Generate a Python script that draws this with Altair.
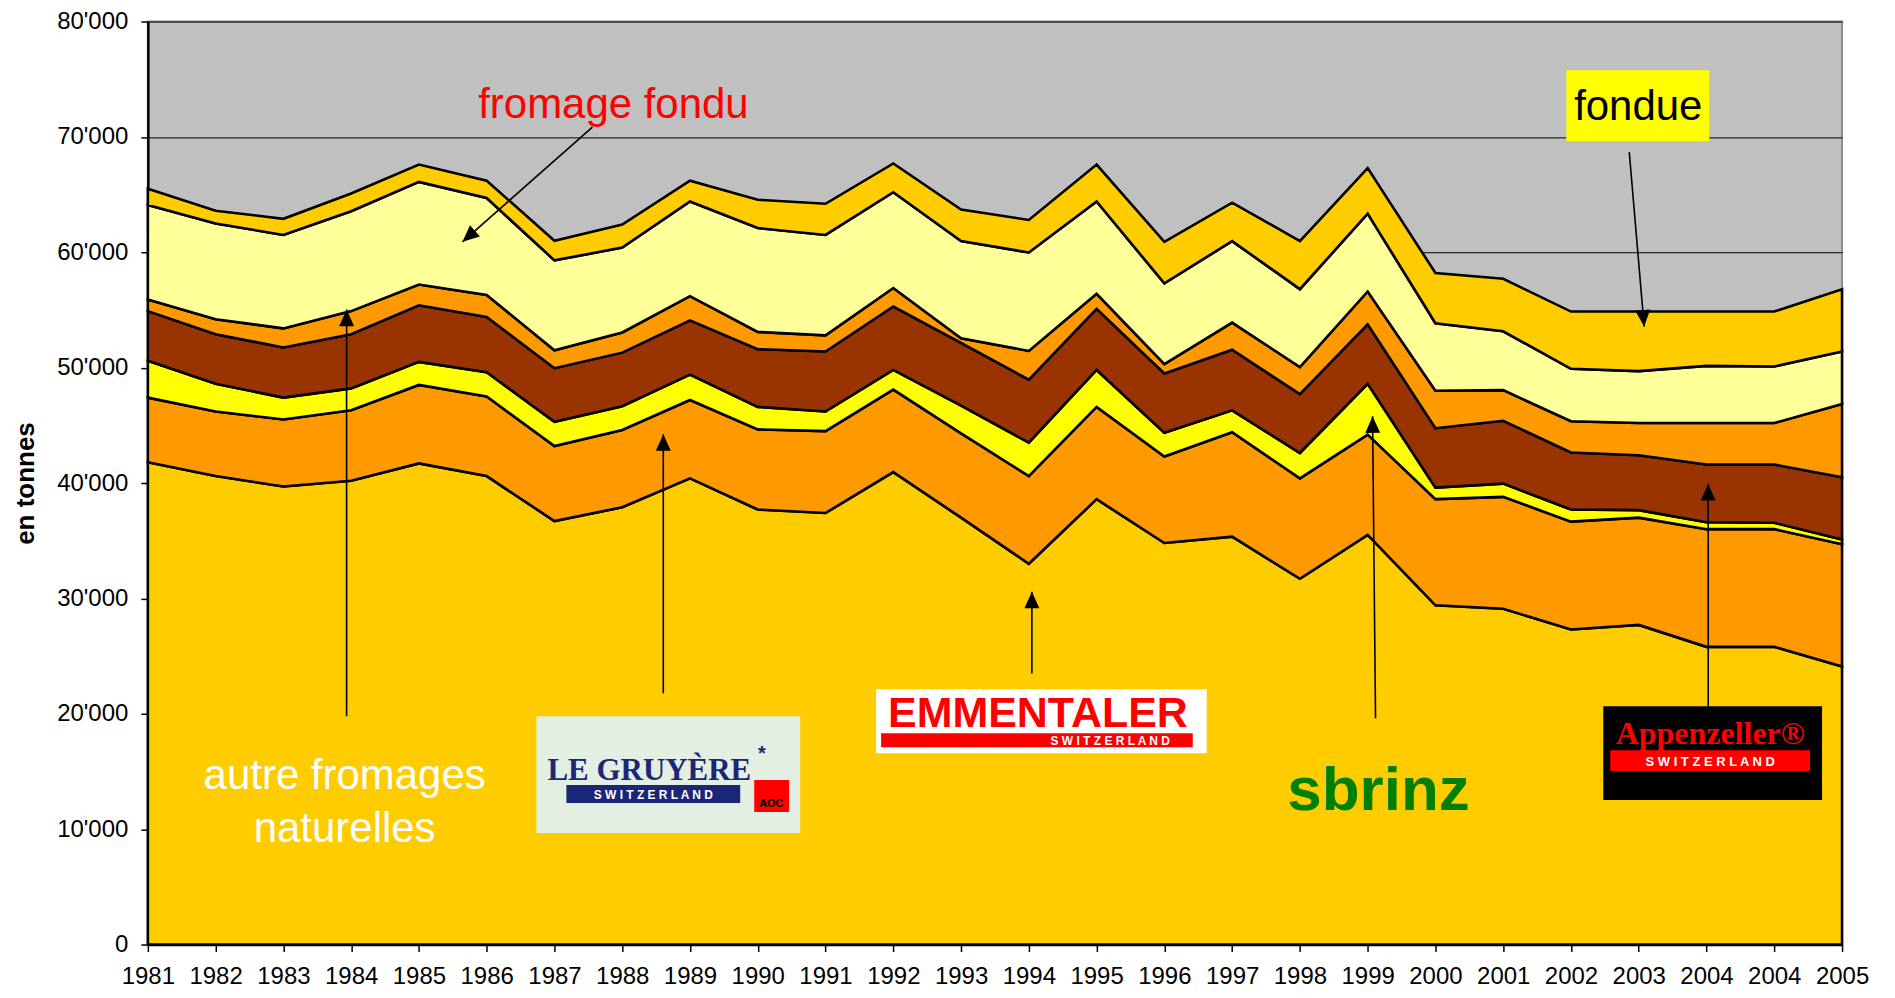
import altair as alt
import pandas as pd

# ---------------- data (tonnes) ----------------
years = ["1981", "1982", "1983", "1984", "1985", "1986", "1987", "1988", "1989",
         "1990", "1991", "1992", "1993", "1994", "1995", "1996", "1997", "1998",
         "1999", "2000", "2001", "2002", "2003", "2004", "2004", "2005"]

emmentaler = [41800, 40600, 39700, 40200, 41700, 40600, 36700, 37900, 40400, 37700,
              37400, 40950, 37000, 33000, 38600, 34800, 35350, 31700, 35500, 29400,
              29100, 27300, 27700, 25800, 25800, 24100]
gruyere = [5600, 5600, 5800, 6100, 6800, 6900, 6500, 6700, 6800, 6950,
           7100, 7150, 7300, 7600, 8000, 7500, 9050, 8700, 8700, 9200,
           9700, 9350, 9300, 10200, 10200, 10600]
sbrinz = [3200, 2400, 1900, 1900, 2000, 2100, 2100, 2050, 2200, 1950,
          1700, 1700, 2400, 2900, 3200, 2050, 1900, 2200, 4400, 1000,
          1150, 1050, 650, 600, 550, 400]
appenzeller = [4300, 4300, 4350, 4700, 4900, 4800, 4650, 4650, 4700, 5000,
               5200, 5500, 5450, 5450, 5300, 5150, 5250, 5100, 5150, 5150,
               5450, 4950, 4750, 5000, 5050, 5400]
autres = [1000, 1300, 1650, 2000, 1800, 1900, 1550, 1750, 2100, 1500,
          1400, 1600, 400, 2500, 1300, 800, 2350, 2350, 2850, 3250,
          2650, 2700, 2800, 3600, 3600, 6350]
fromage_fondu = [8200, 8300, 8100, 8650, 8900, 8400, 7800, 7350, 8200, 9000,
                 8700, 8300, 8420, 8530, 8000, 7000, 7070, 6750, 6750, 5850,
                 5100, 4550, 4500, 4950, 4900, 4550]
fondue = [1400, 1100, 1400, 1550, 1500, 1500, 1700, 2000, 1800, 2450,
          2700, 2500, 2730, 2820, 3200, 3600, 3330, 4170, 3950, 4350,
          4550, 4960, 5160, 4710, 4760, 5400]

series_names = ["Emmentaler", "Gruyère", "Sbrinz", "Appenzeller",
                "autre fromages naturelles", "fromage fondu", "fondue"]
series_values = [emmentaler, gruyere, sbrinz, appenzeller, autres, fromage_fondu, fondue]
series_colors = ["#FFCC00", "#FF9900", "#FFFF00", "#993300", "#FF9900", "#FFFF99", "#FFCC00"]

rows = []
for k, (name, vals) in enumerate(zip(series_names, series_values)):
    for i, v in enumerate(vals):
        rows.append({"i": i, "year": years[i], "serie": name, "k": k, "value": v})
df = pd.DataFrame(rows)

FONT = "Liberation Sans"
label_expr = "[" + ",".join("'%s'" % y for y in years) + "][datum.value]"

x_scale = alt.Scale(domain=[0, len(years) - 1], nice=False, zero=False)
y_scale = alt.Scale(domain=[0, 80000], nice=False)

areas = alt.Chart(df).mark_area(stroke="black", strokeWidth=2.6, opacity=1).encode(
    x=alt.X("i:Q", scale=x_scale, title=None,
            axis=alt.Axis(values=list(range(len(years))), labelExpr=label_expr,
                          grid=False, title=None, tickSize=7, tickColor="black",
                          tickWidth=1.5, labelPadding=13, labelFontSize=24,
                          labelFont=FONT, labelColor="black", domainColor="black",
                          domainWidth=2.5, labelOverlap=False, labelFlush=False)),
    y=alt.Y("value:Q", stack="zero", scale=y_scale, title="en tonnes",
            axis=alt.Axis(values=list(range(0, 80001, 10000)),
                          labelExpr="replace(format(datum.value, ','), ',', \"'\")",
                          grid=True, gridColor="black", gridWidth=1, gridOpacity=1,
                          tickSize=7, tickColor="black", tickWidth=1.5,
                          labelPadding=13, labelFontSize=24, labelFont=FONT,
                          labelColor="black", domainColor="black", domainWidth=2.5,
                          title="en tonnes", titleFont=FONT, titleFontSize=26,
                          titleFontWeight="bold", titleColor="black", titlePadding=18)),
    color=alt.Color("serie:N", scale=alt.Scale(domain=series_names, range=series_colors),
                    legend=None),
    order=alt.Order("k:Q", sort="ascending"),
)

# ---------------- annotations (in data units) ----------------
def X(f="i"):
    return alt.X(f + ":Q", scale=x_scale, title=None)


def Y(f="value"):
    return alt.Y(f + ":Q", scale=y_scale, title="en tonnes")


def rect(x, x2, y, y2, color):
    d = pd.DataFrame([{"i": x, "i2": x2, "value": y, "value2": y2}])
    return alt.Chart(d).mark_rect(color=color, opacity=1).encode(
        x=X(), x2="i2:Q", y=Y(), y2="value2:Q")


def text(t, x, y, size, color, weight="normal", font=FONT, align="center"):
    d = pd.DataFrame([{"i": x, "value": y, "t": t}])
    return alt.Chart(d).mark_text(fontSize=size, color=color, fontWeight=weight,
                                  font=font, align=align, baseline="alphabetic").encode(
        x=X(), y=Y(), text="t:N")


arrows = pd.DataFrame([
    {"i": 6.56, "value": 70840, "i2": 4.643, "value2": 60905, "a": 228.6},    # fromage fondu
    {"i": 21.86, "value": 68680, "i2": 22.08, "value2": 53560, "a": 175.1},   # fondue
    {"i": 2.933, "value": 19784, "i2": 2.933, "value2": 55030, "a": 0},       # autres
    {"i": 7.606, "value": 21770, "i2": 7.606, "value2": 44231, "a": 0},       # gruyere
    {"i": 13.045, "value": 23498, "i2": 13.045, "value2": 30582, "a": 0},     # emmentaler
    {"i": 18.116, "value": 19611, "i2": 18.072, "value2": 45787, "a": 359.4}, # sbrinz
    {"i": 23.025, "value": 20647, "i2": 23.025, "value2": 39912, "a": 0},     # appenzeller
])
arrow_lines = alt.Chart(arrows).mark_rule(color="black", strokeWidth=1.6).encode(
    x=X(), y=Y(), x2="i2:Q", y2="value2:Q")
arrow_heads = alt.Chart(arrows).transform_calculate(
    i="datum.i2", value="datum.value2").mark_point(
    shape="M0,0L-0.45,1L0.45,1Z", filled=True, color="black", opacity=1, size=1100,
    strokeWidth=0).encode(x=X(), y=Y(), angle=alt.Angle("a:Q", scale=None))

layers = [areas]

# fromage fondu
layers.append(text("fromage fondu", 6.87, 71617, 42, "#FF0000"))
# fondue (yellow box)
layers.append(rect(20.932, 23.04, 75765, 69630, "#FFFF00"))
layers.append(text("fondue", 21.993, 71444, 42, "black"))
# autre fromages naturelles
layers.append(text("autre fromages", 2.904, 13477, 42, "white"))
layers.append(text("naturelles", 2.904, 8898, 42, "white"))
# sbrinz
layers.append(text("sbrinz", 18.16, 11663, 62, "#008000", weight="bold"))

# Gruyère logo
layers.append(rect(5.734, 9.626, 19784, 9676, "#E3EFE3"))
layers.append(text("LE GRUYÈRE", 7.40, 14254, 31, "#1C2677", weight="bold",
                   font="Liberation Serif"))
layers.append(text("*", 9.06, 16000, 20, "#1C2677", weight="bold"))
layers.append(rect(6.176, 8.741, 13822, 12267, "#1C2677"))
layers.append(text("S W I T Z E R L A N D", 7.459, 12580, 12, "white", weight="bold"))
layers.append(rect(8.948, 9.463, 14254, 11490, "#FF0000"))
layers.append(text("AOC", 9.2, 11900, 11, "black", weight="bold"))

# Emmentaler logo
layers.append(rect(10.746, 15.625, 22116, 16587, "white"))
layers.append(text("EMMENTALER", 13.134, 18833, 43, "#FF0000", weight="bold"))
layers.append(rect(10.82, 15.419, 18315, 17105, "#FF0000"))
layers.append(text("S W I T Z E R L A N D", 14.2, 17270, 12, "white", weight="bold"))

# Appenzeller logo
layers.append(rect(21.477, 24.705, 20647, 12527, "black"))
layers.append(text("Appenzeller®", 23.054, 17364, 32, "#FF0000", weight="bold",
                   font="Liberation Serif"))
layers.append(rect(21.58, 24.528, 16846, 15032, "#FF0000"))
layers.append(text("S W I T Z E R L A N D", 23.054, 15500, 13, "white", weight="bold"))

layers += [arrow_lines, arrow_heads]

chart = alt.layer(*layers).properties(
    width=1696, height=924,
    padding={"left": 140, "top": 13, "right": 45, "bottom": 45},
    autosize=alt.AutoSizeParams(type="none"),
).configure_view(fill="#C0C0C0", stroke="#8C8C8C", strokeWidth=2)

chart.save("out.html", embed_options={"renderer": "svg", "actions": False})
